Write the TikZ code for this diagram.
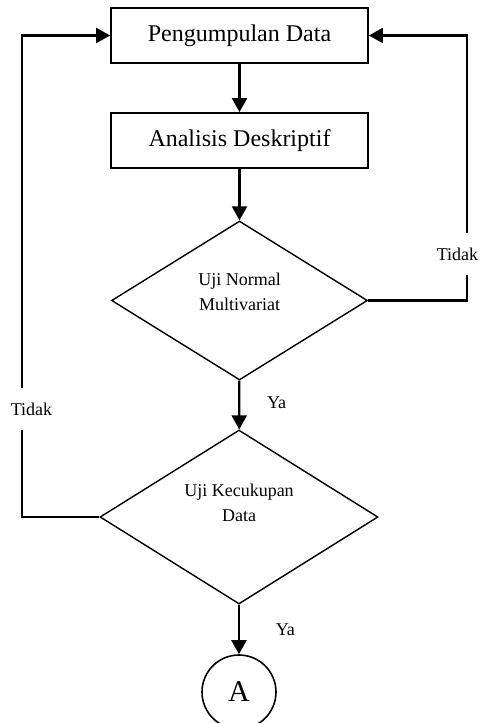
\documentclass[tikz,border=0pt]{standalone}
\usepackage{fontspec}
\setmainfont{Liberation Serif}
\usetikzlibrary{shapes.geometric, arrows.meta, positioning}

\begin{document}
\begin{tikzpicture}[
        x=0.5pt,
        y=-0.5pt,
        >={Triangle[length=7pt,width=7.5pt]},
        every node/.style={font=\fontsize{9}{12.5}\selectfont},
        proses/.style={draw, line width=0.9pt, minimum width=128.5pt, minimum height=27.5pt, font=\fontsize{12}{14}\selectfont},
        keputusan/.style={draw, diamond, aspect=1.6, line width=0.7pt},
        konektor/.style={draw, circle, line width=0.8pt, minimum size=37pt, inner sep=0pt, font=\fontsize{15}{16}\selectfont},
        alur/.style={->, line width=1.1pt},
        jeda/.style={fill=white, inner xsep=1pt, minimum height=21pt}
    ]
    \useasboundingbox (0,0) rectangle (480,723);

    \node[proses] (kumpul) at (239.5,35.5) {Pengumpulan Data};
    \node[proses] (deskriptif) at (239.5,140.5) {Analisis Deskriptif};
    \node[keputusan, minimum width=128pt, minimum height=79.5pt,
        label={[align=center, yshift=4.5pt]center:Uji Normal\\Multivariat}] (normal) at (239.5,300.5) {};
    \node[keputusan, minimum width=139pt, minimum height=87pt,
        label={[align=center, yshift=7pt]center:Uji Kecukupan\\Data}] (cukup) at (239,517) {};
    \node[konektor] (titikA) at (239,692) {A};

    \coordinate (sudutKanan) at (467,300.5);
    \coordinate (sudutKiri) at (22,517);

    \draw[alur] (kumpul) -- (deskriptif);
    \draw[alur] (deskriptif) -- (normal);
    \draw[alur] (normal) -- node[right=10pt, pos=0.45]{Ya} (cukup);
    \draw[alur] (cukup) -- node[right=14.5pt]{Ya} (titikA);
    \draw[alur] (normal.east) -- (sudutKanan) |- (kumpul.east);
    \draw[alur] (cukup.west) -- (sudutKiri) |- (kumpul.west);

    \node[jeda] (tidakKanan) at (457.5,254) {Tidak};
    \node[jeda] (tidakKiri) at (31.5,409) {Tidak};
\end{tikzpicture}
\end{document}
